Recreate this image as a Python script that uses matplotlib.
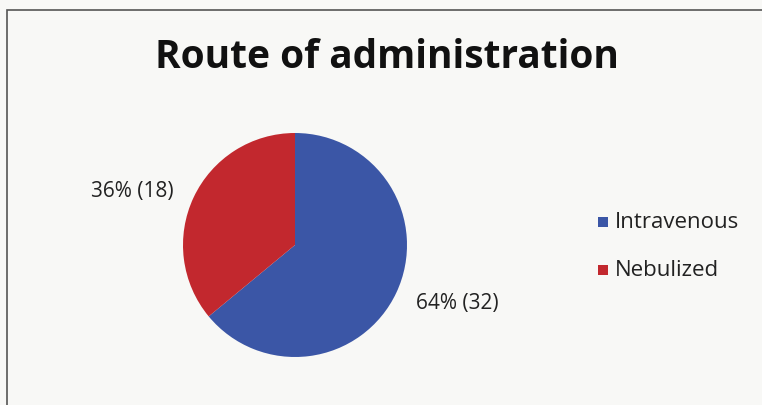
import matplotlib
matplotlib.use("Agg")
import matplotlib.pyplot as plt
from matplotlib.patches import Rectangle

categories = ["Intravenous", "Nebulized"]
counts = [32, 18]
colors = ["#3B56A6", "#C2282E"]
title = "Route of administration"

plt.rcParams["font.family"] = ["Open Sans", "DejaVu Sans"]

fig = plt.figure(figsize=(7.62, 4.05), dpi=100)
fig.patch.set_facecolor("#f8f8f6")

# chart frame
fig.add_artist(Rectangle((7 / 762, -0.05), 1.0, 1 - 10 / 405 + 0.05,
                         transform=fig.transFigure, fill=False,
                         edgecolor="#555555", linewidth=1.2))

fig.text(387 / 762, 1 - 57 / 405, title, fontsize=28, fontweight="bold",
         ha="center", va="center", color="#111111")

# pie centred around (295, 245) px, radius ~112 px
ax = fig.add_axes([(295 - 112) / 762, (405 - 245 - 112) / 405,
                   224 / 762, 224 / 405])
total = sum(counts)
wedges, _ = ax.pie(counts, colors=colors, startangle=90, counterclock=False,
                   radius=1.0)
ax.set_aspect("equal")
ax.set_xlim(-1, 1)
ax.set_ylim(-1, 1)

label_pos = [(457, 304), (132, 191)]
for c, (x, y) in zip(counts, label_pos):
    fig.text(x / 762, 1 - y / 405, f"{round(100 * c / total)}% ({c})",
             fontsize=15, ha="center", va="center", color="#222222")

legend_y = [222, 270]
for name, col, y in zip(categories, colors, legend_y):
    fig.add_artist(Rectangle((598 / 762, 1 - (y + 5) / 405), 10 / 762, 10 / 405,
                             transform=fig.transFigure, facecolor=col,
                             edgecolor="none"))
    fig.text(615 / 762, 1 - y / 405, name, fontsize=16, ha="left",
             va="center", color="#222222")

fig.savefig("out.png", dpi=100, facecolor=fig.get_facecolor())
